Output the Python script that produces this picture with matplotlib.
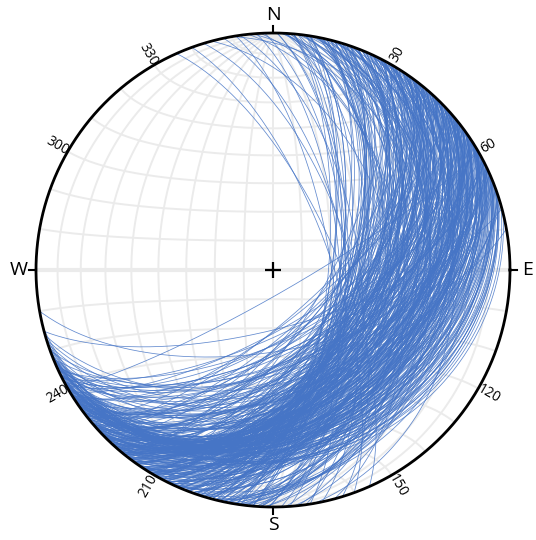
import numpy as np
import matplotlib
matplotlib.use("Agg")
import matplotlib.pyplot as plt

# planes (right-hand rule strike, dip)
strikes = [
    38, 12, 55, 27, 63, 4, 46, 31, 70, 19, 52, 8, 41, 66, 24, 35, 58, 15, 49, 29,
    61, 22, 44, 2, 57, 33, 68, 17, 50, 39, 11, 64, 26, 53, 36, 6, 47, 72, 20, 42,
    30, 59, 14, 45, 354, 37, 62, 25, 51, 9, 40, 67, 18, 56, 32, 48, 3, 60, 28, 43,
    16, 54, 34, 69, 23, 47, 1, 58, 38, 13, 65, 29, 52, 42, 7, 61, 21, 45, 36, 74,
    26, 49, 357, 40, 63, 31, 55, 10, 44, 19, 57, 35, 66, 24, 50, 14, 39, 60, 28, 46,
    348, 53, 37, 21, 64, 43, 5, 56, 32, 48, 17, 62, 27, 41, 70, 12, 51, 34, 59, 23,
    44, 8, 58, 30, 47, 65, 20, 39, 355, 54, 25, 61, 36, 15, 49, 68, 33, 42, 11, 57,
    63, 27, 45, 18, 52, 340, 38, 60, 24, 47, 4, 55, 31, 71, 22, 43, 57, 13, 36, 50,
    29, 62, 41, 9, 54, 34, 67, 19, 46, 58, 26, 39, 2, 53, 73, 30, 48, 16, 61, 37,
    51, 22, 35, 64, 14, 44, 345, 57, 28, 40, 66, 10, 52, 33, 46, 20, 59, 38, 6, 48,
    55, 31, 68, 18, 42, 25, 350, 60, 37, 50, 12, 45, 29, 63, 35, 56, 7, 41, 53, 24,
    40, 65, 27, 47, 3, 58, 33, 16, 52, 43, 69, 21, 36, 61, 30, 49, 11, 55, 76, 26,
    336, 46, 59, 23, 38, 64, 9, 50, 32, 56, 44, 15, 62, 28, 358, 48, 35, 67, 42, 19,
    57, 34, 71, 25, 45, 39, 5, 60, 30, 53, 17, 47, 65, 37, 54, 13, 43, 28, 62, 343,
    32, 50, 40, 14, 58, 43, 66, 21, 49, 36, 59, 8, 46, 27, 39, 72, 18, 54, 33, 352,
    24, 47, 35, 60, 11, 52, 29, 41, 66, 18, 56, 38, 3, 49, 31, 63, 22, 44, 57, 14,
    45, 27, 58, 36, 70, 20, 50, 8, 42, 61, 33, 53, 16, 39, 67, 25, 48, 356, 59, 30,
    37, 62, 19, 51, 43, 5, 55, 28, 64, 34, 47, 12, 58, 40, 23, 69, 32, 54, 45, 1,
    53, 15, 41, 68, 26, 57, 36, 49, 9, 61, 30, 44, 74, 21, 51, 38, 63, 17, 46, 34,
    28, 56, 43, 6, 59, 33, 48, 65, 24, 40, 13, 54, 37, 62, 27, 50, 351, 42, 58, 31,
    80, 75, 60,
]
dips = [
    48, 35, 57, 42, 63, 51, 29, 45, 55, 38, 66, 47, 33, 59, 41, 52, 37, 61, 44, 50,
    31, 54, 46, 39, 68, 43, 58, 49, 27, 62, 40, 53, 36, 47, 56, 34, 71, 45, 51, 38,
    60, 42, 25, 57, 44, 65, 48, 35, 53, 30, 69, 46, 39, 55, 62, 33, 50, 41, 58, 36,
    47, 52, 28, 22, 59, 40, 64, 45, 72, 37, 54, 32, 61, 49, 43, 67, 56, 34, 48, 51,
    39, 63, 46, 55, 24, 50, 41, 36, 70, 53, 58, 30, 45, 61, 42, 26, 57, 48, 66, 38,
    64, 49, 35, 56, 52, 29, 67, 44, 33, 59, 47, 62, 40, 51, 21, 54, 73, 37, 60, 43,
    46, 32, 65, 50, 38, 57, 45, 69, 34, 61, 53, 41, 55, 27, 68, 48, 36, 58, 44, 31,
    63, 42, 54, 23, 47, 70, 35, 52, 28, 60, 44, 49, 66, 39, 57, 33, 51, 64, 40, 55,
    37, 58, 45, 67, 36, 53, 26, 61, 43, 50, 19, 56, 34, 62, 48, 39, 74, 52, 30, 46,
    54, 38, 60, 44, 51, 65, 47, 29, 68, 40, 57, 35, 62, 46, 24, 50, 71, 37, 53, 59,
    41, 55, 33, 63, 46, 58, 25, 49, 62, 36, 60, 43, 52, 69, 32, 56, 39, 64, 47, 28,
    50, 66, 43, 34, 57, 23, 45, 61, 38, 53, 30, 64, 40, 48, 72, 37, 59, 46, 20, 55,
    68, 47, 32, 60, 51, 39, 70, 44, 56, 27, 42, 63, 35, 52, 65, 41, 58, 31, 49, 67,
    36, 53, 26, 62, 45, 50, 71, 33, 57, 41, 64, 48, 22, 55, 37, 66, 43, 54, 29, 63,
    59, 40, 52, 68, 34, 47, 27, 61, 44, 56, 35, 70, 42, 58, 50, 25, 65, 38, 53, 60,
    52, 38, 61, 44, 57, 33, 66, 47, 29, 55, 40, 63, 49, 35, 58, 27, 51, 43, 36, 62,
    45, 59, 31, 54, 24, 48, 37, 64, 42, 34, 56, 46, 60, 39, 28, 53, 41, 67, 35, 50,
    57, 30, 63, 44, 49, 69, 38, 55, 26, 47, 36, 61, 33, 52, 58, 22, 46, 40, 54, 65,
    39, 62, 48, 25, 56, 35, 51, 43, 67, 32, 59, 45, 21, 60, 37, 53, 29, 64, 41, 50,
    48, 34, 57, 66, 38, 52, 44, 27, 60, 46, 63, 36, 54, 31, 59, 42, 70, 49, 33, 56,
    62, 70, 82,
]
tick_azimuths = [30, 60, 120, 150, 210, 240, 300, 330]
cardinals = ["N", "E", "S", "W"]


def project(e, n, d):
    # equal-area, lower hemisphere
    k = np.sqrt(1.0 / (1.0 + d))
    return e * k, n * k


def great_circle(strike, dip, num=200):
    s = np.radians(strike)
    dp = np.radians(dip)
    a = np.linspace(0, np.pi, num)
    sv = np.array([np.sin(s), np.cos(s), 0.0])
    dv = np.array([np.sin(s + np.pi / 2) * np.cos(dp), np.cos(s + np.pi / 2) * np.cos(dp), np.sin(dp)])
    v = np.outer(np.cos(a), sv) + np.outer(np.sin(a), dv)
    return project(v[:, 0], v[:, 1], np.clip(v[:, 2], 0, 1))


def small_circle_ns(lat, num=200):
    phi = np.radians(lat)
    t = np.linspace(0, np.pi, num)
    e = np.cos(phi) * np.cos(t)
    n = np.full_like(t, np.sin(phi))
    d = np.cos(phi) * np.sin(t)
    return project(e, n, d)


fig = plt.figure(figsize=(5.36, 5.40), dpi=100)
ax = fig.add_axes([0, 0, 1, 1])
R = 237.0
ax.set_xlim(-273 / R, (536 - 273) / R)
ax.set_ylim(-(540 - 270) / R, 270 / R)
ax.set_aspect("equal")
ax.axis("off")

grid_col = "#ebebeb"
for d in range(10, 90, 10):
    for st in (0, 180):
        x, y = great_circle(st, d)
        ax.plot(x, y, color=grid_col, lw=1.4, zorder=1)
x, y = great_circle(0, 90)
ax.plot(x, y, color=grid_col, lw=1.4, zorder=1)
for lat in range(-80, 90, 10):
    x, y = small_circle_ns(lat)
    ax.plot(x, y, color=grid_col, lw=3.0 if lat == 0 else 1.4, zorder=1)

for st, dp in zip(strikes, dips):
    x, y = great_circle(st, dp)
    ax.plot(x, y, color="#4675c6", lw=0.55, alpha=0.85, zorder=2)

th = np.linspace(0, 2 * np.pi, 400)
ax.plot(np.cos(th), np.sin(th), color="black", lw=2.0, zorder=3)
ax.plot(0, 0, marker="+", color="black", ms=11, mew=1.6, zorder=4)

font = "Open Sans"
for i, lab in enumerate(cardinals):
    az = np.radians(i * 90)
    ax.plot([np.sin(az), 1.03 * np.sin(az)], [np.cos(az), 1.03 * np.cos(az)],
            color="black", lw=1.5, zorder=3)
    rr = 1.075
    ax.text(rr * np.sin(az), rr * np.cos(az), lab, ha="center", va="center",
            fontsize=14, family=font)

for az in tick_azimuths:
    a = np.radians(az)
    rot = (90 - az) % 360
    if rot > 90 and rot <= 270:
        rot -= 180
    if rot > 180:
        rot -= 360
    ax.text(1.05 * np.sin(a), 1.05 * np.cos(a), str(az), ha="center", va="center",
            rotation=rot, rotation_mode="anchor", fontsize=10, family=font)

fig.savefig("out.png", dpi=100)
